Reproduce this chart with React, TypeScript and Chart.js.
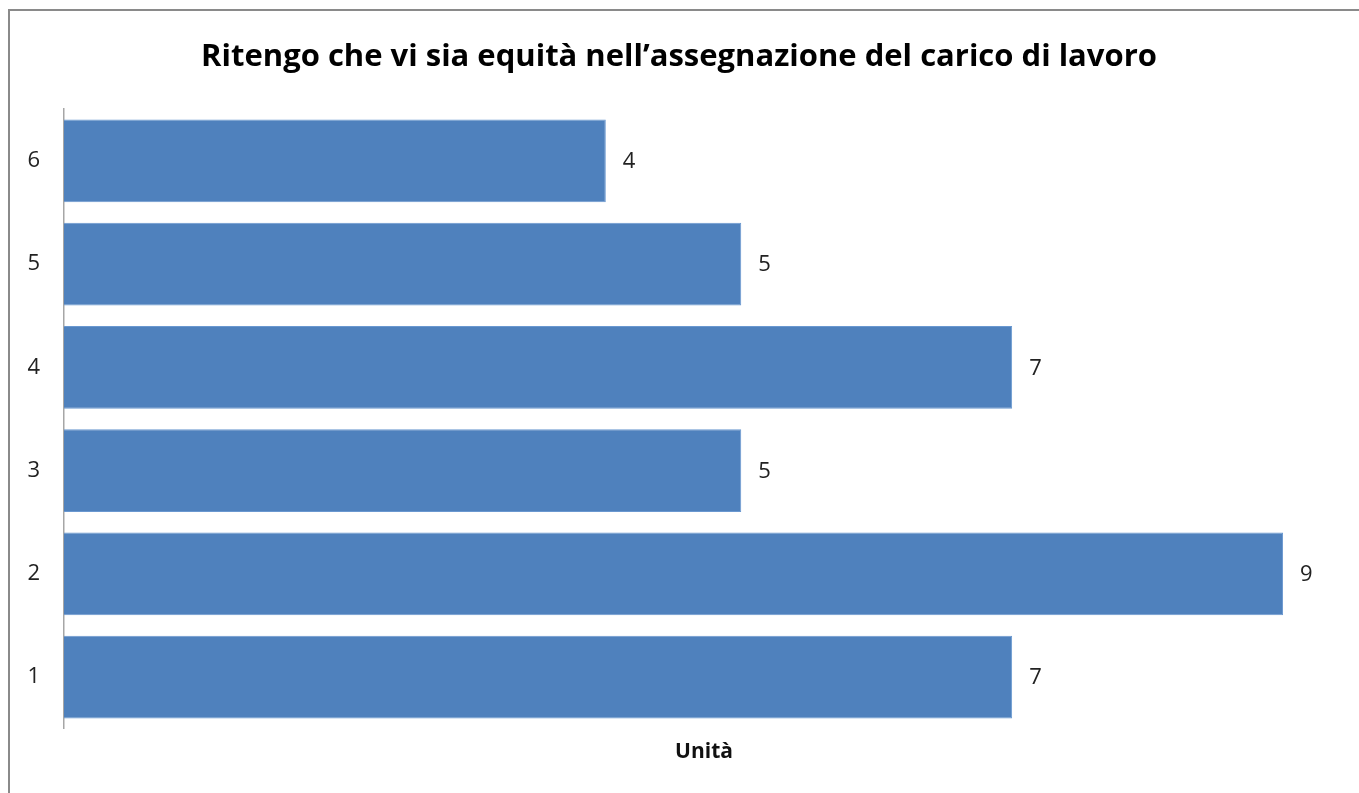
import React, { useEffect, useRef } from "react";
import { Chart, registerables } from "chart.js";

Chart.register(...registerables);

const categories = ["1", "2", "3", "4", "5", "6"];
const values = [7, 9, 5, 7, 5, 4];
const titleText = "Ritengo che vi sia equità nell’assegnazione del carico di lavoro";
const xTitle = "Unità";

const FONT = "'Open Sans', 'DejaVu Sans', sans-serif";

const valueLabels = {
  id: "valueLabels",
  afterDatasetsDraw(chart: any) {
    const ctx = chart.ctx;
    const meta = chart.getDatasetMeta(0);
    ctx.save();
    ctx.font = `22px ${FONT}`;
    ctx.fillStyle = "#222222";
    ctx.textAlign = "left";
    ctx.textBaseline = "middle";
    meta.data.forEach((el: any, i: number) => {
      ctx.fillText(String(values[i]), el.x + 17, el.y + 1);
    });
    ctx.restore();
  },
};

export default function App() {
  const ref = useRef<HTMLCanvasElement>(null);
  useEffect(() => {
    if (!ref.current) return;
    const chart = new Chart(ref.current, {
      type: "bar",
      data: {
        labels: categories,
        datasets: [
          {
            data: values,
            backgroundColor: "#4F81BD",
            borderColor: "#6A98D0",
            borderWidth: 1,
            barPercentage: 1,
            categoryPercentage: 0.8,
          },
        ],
      },
      options: {
        indexAxis: "y",
        responsive: false,
        animation: false,
        layout: { padding: { left: 14, right: 15, top: 0, bottom: 28 } },
        plugins: {
          legend: { display: false },
          tooltip: { enabled: false },
          title: {
            display: true,
            text: titleText,
            color: "#000000",
            font: { family: FONT, size: 31, weight: "bold" },
            padding: { top: 39, bottom: 33 },
          },
        },
        scales: {
          x: {
            min: 0,
            max: 9.45,
            grid: { display: false },
            border: { display: false },
            ticks: { display: false },
            title: {
              display: true,
              text: xTitle,
              color: "#111111",
              font: { family: FONT, size: 21, weight: "bold" },
              padding: { top: 3, bottom: 0 },
            },
          },
          y: {
            reverse: true,
            grid: { display: false, drawTicks: false },
            border: { display: true, color: "#A6A6A6", width: 1.5 },
            ticks: {
              color: "#222222",
              font: { family: FONT, size: 22 },
              padding: 24,
            },
            afterFit: (scale: any) => {
              scale.width = 50;
            },
          },
        },
      },
      plugins: [valueLabels],
    });
    return () => chart.destroy();
  }, []);

  return (
    <div
      style={{
        position: "fixed",
        left: 0,
        top: 0,
        width: 1359,
        height: 793,
        overflow: "hidden",
        background: "#ffffff",
      }}
    >
      <canvas ref={ref} width={1359} height={793} style={{ position: "absolute", left: 0, top: 0 }} />
      <div
        style={{
          position: "absolute",
          left: 8,
          top: 9,
          width: 1500,
          height: 1000,
          border: "2px solid #8A8A8A",
          pointerEvents: "none",
        }}
      />
    </div>
  );
}
